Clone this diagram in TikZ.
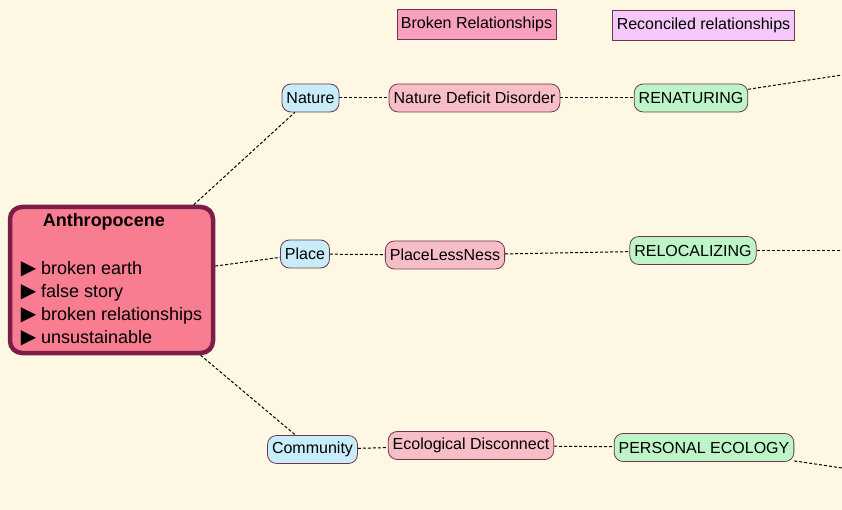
\documentclass[tikz,border=0pt]{standalone}
\usepackage{fontspec}
\setmainfont{Liberation Sans}
\newfontfamily\symfont{DejaVu Sans}
\usepackage{xcolor}
\usetikzlibrary{positioning}
\definecolor{paper}{RGB}{254,247,227}
\definecolor{rim}{RGB}{110,55,80}
\definecolor{anthrim}{RGB}{122,30,70}
\definecolor{anthfill}{RGB}{248,125,145}
\definecolor{topicfill}{RGB}{201,237,248}
\definecolor{brokenfill}{RGB}{248,190,200}
\definecolor{mendfill}{RGB}{190,245,200}
\definecolor{keybroken}{RGB}{248,160,190}
\definecolor{keymend}{RGB}{245,200,250}
\newcommand{\tri}{{\fontsize{20}{23}\symfont ▶}}

\begin{document}
\begin{tikzpicture}[x=1pt,y=-1pt,
  lk/.style={draw,dash pattern=on 3pt off 2pt,line width=1pt},
  nd/.style={draw=rim,line width=0.8pt,rounded corners=9pt,minimum height=28pt,
    inner xsep=4.5pt,font=\fontsize{16}{18}\selectfont},
  key/.style={draw=rim,line width=0.8pt,minimum height=30pt,inner xsep=4pt,
    font=\fontsize{16}{18}\selectfont}]
  \fill[paper] (0,0) rectangle (842,510);
  \useasboundingbox (0,0) rectangle (842,510);

  \node[key,fill=keybroken] (kb) at (476.5,24) {Broken Relationships};
  \node[key,fill=keymend] (km) at (703.5,25) {Reconciled relationships};

  \node[draw=anthrim,line width=4.5pt,fill=anthfill,rounded corners=12pt,
    minimum width=203pt,minimum height=146pt,align=left,
    font=\fontsize{18}{23}\selectfont] (anth) at (111.5,280)
    {\hspace*{22pt}\textbf{Anthropocene}\\[25pt]
     \tri\ broken earth\\ \tri\ false story\\
     \tri\ broken relationships\\ \tri\ unsustainable};

  \node[nd,fill=topicfill] (nat) at (310.5,98) {Nature};
  \node[nd,fill=brokenfill] (ndd) at (474.5,98) {Nature Deficit Disorder};
  \node[nd,fill=mendfill] (ren) at (691,98) {RENATURING};

  \node[nd,fill=topicfill] (plc) at (305,254) {Place};
  \node[nd,fill=brokenfill] (pln) at (445,255) {PlaceLessNess};
  \node[nd,fill=mendfill] (rel) at (693,250.5) {RELOCALIZING};

  \node[nd,fill=topicfill] (com) at (312.5,449.5) {Community};
  \node[nd,fill=brokenfill] (eco) at (471,445.5) {Ecological Disconnect};
  \node[nd,fill=mendfill] (pec) at (704,447.5) {PERSONAL ECOLOGY};

  \coordinate (out1) at (842,75);
  \coordinate (out2) at (842,250.5);
  \coordinate (out3) at (842,468);

  \draw[lk] (anth) -- (nat);
  \draw[lk] (anth) -- (plc);
  \draw[lk] (anth) -- (com);
  \draw[lk] (nat) -- (ndd);
  \draw[lk] (ndd) -- (ren);
  \draw[lk] (ren) -- (out1);
  \draw[lk] (plc) -- (pln);
  \draw[lk] (pln) -- (rel);
  \draw[lk] (rel) -- (out2);
  \draw[lk] (com) -- (eco);
  \draw[lk] (eco) -- (pec);
  \draw[lk] (pec) -- (out3);
\end{tikzpicture}
\end{document}
